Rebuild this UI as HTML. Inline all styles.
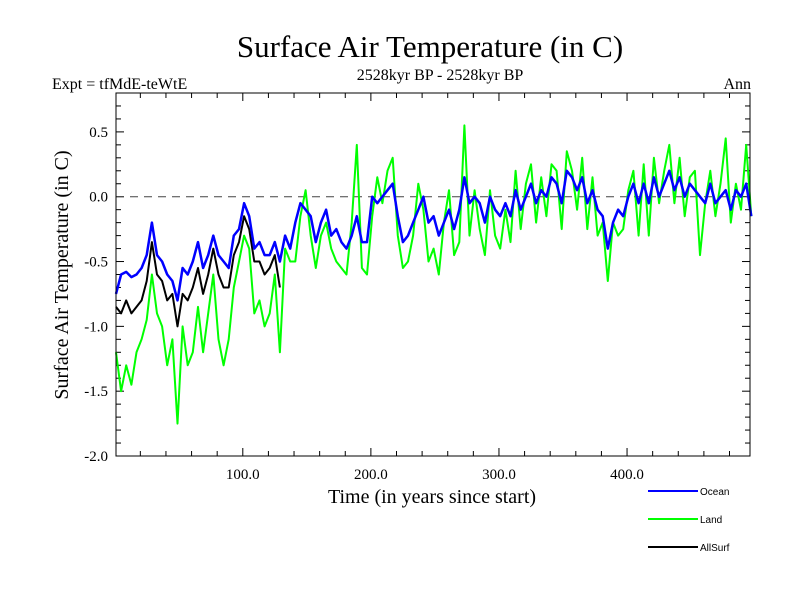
<!DOCTYPE html>
<html><head><meta charset="utf-8"><style>
body{margin:0;background:#fff}
svg{display:block;font-family:"Liberation Serif",serif}
</style></head><body>
<svg id="chart" width="800" height="600">
<text x="430" y="57" font-size="31" text-anchor="middle">Surface Air Temperature (in C)</text>
<text x="52" y="89" font-size="16">Expt = tfMdE-teWtE</text>
<text x="440" y="80" font-size="16" text-anchor="middle">2528kyr BP - 2528kyr BP</text>
<text x="751" y="89" font-size="16" text-anchor="end">Ann</text>
<text transform="translate(68,275) rotate(-90)" font-size="20" text-anchor="middle">Surface Air Temperature (in C)</text>
<text x="432" y="503" font-size="20" text-anchor="middle">Time (in years since start)</text>
<g id="axes"></g>
<g id="series"></g>
<rect x="116" y="93" width="634" height="363" fill="none" stroke="#000" stroke-width="1"/>
<g font-family="Liberation Sans,sans-serif" font-size="10">
<line x1="648" y1="491" x2="698" y2="491" stroke="#0000ff" stroke-width="2"/>
<text x="700" y="495">Ocean</text>
<line x1="648" y1="519" x2="698" y2="519" stroke="#00ff00" stroke-width="2"/>
<text x="700" y="523">Land</text>
<line x1="648" y1="547" x2="698" y2="547" stroke="#000" stroke-width="2"/>
<text x="700" y="551">AllSurf</text>
</g>
</svg>
<script>
const startYear = 1;
const yearStep = 4;
const xTicks = [100, 200, 300, 400];
const xTickLabels = ["100.0", "200.0", "300.0", "400.0"];
const yTicks = [0.5, 0.0, -0.5, -1.0, -1.5, -2.0];
const yTickLabels = ["0.5", "0.0", "-0.5", "-1.0", "-1.5", "-2.0"];
const ocean = [-0.75,-0.6,-0.58,-0.62,-0.6,-0.55,-0.45,-0.2,-0.45,-0.5,-0.6,-0.65,-0.8,-0.55,-0.6,-0.5,-0.35,-0.55,-0.45,-0.3,-0.45,-0.5,-0.55,-0.3,-0.25,-0.05,-0.15,-0.4,-0.35,-0.45,-0.45,-0.35,-0.5,-0.3,-0.4,-0.2,-0.05,-0.1,-0.15,-0.35,-0.2,-0.1,-0.3,-0.25,-0.35,-0.4,-0.3,-0.15,-0.35,-0.35,0.0,-0.05,0.0,0.05,0.1,-0.15,-0.35,-0.3,-0.2,-0.1,0.0,-0.2,-0.15,-0.3,-0.2,-0.1,-0.25,-0.1,0.15,-0.05,0.0,-0.05,-0.2,0.0,-0.1,-0.15,-0.05,-0.15,0.05,-0.1,0.0,0.1,-0.05,0.05,0.0,0.15,0.1,-0.05,0.2,0.15,0.05,0.15,-0.05,0.05,-0.1,-0.15,-0.4,-0.2,-0.1,-0.15,0.0,0.1,-0.05,0.1,-0.05,0.15,0.0,0.1,0.2,0.05,0.15,0.0,0.1,0.05,0.0,-0.05,0.1,-0.05,0.0,0.05,-0.1,0.05,0.0,0.1,-0.15];
const land = [-1.2,-1.5,-1.3,-1.45,-1.2,-1.1,-0.95,-0.6,-0.9,-1.0,-1.3,-1.1,-1.75,-1.0,-1.3,-1.2,-0.85,-1.2,-0.9,-0.6,-1.1,-1.3,-1.1,-0.7,-0.5,-0.3,-0.4,-0.9,-0.8,-1.0,-0.9,-0.6,-1.2,-0.4,-0.5,-0.5,-0.15,0.05,-0.3,-0.55,-0.3,-0.2,-0.4,-0.5,-0.55,-0.6,-0.2,0.4,-0.55,-0.6,-0.15,0.15,-0.05,0.2,0.3,-0.3,-0.55,-0.5,-0.3,0.1,-0.1,-0.5,-0.4,-0.6,-0.2,0.05,-0.45,-0.35,0.55,-0.3,0.05,-0.25,-0.45,0.05,-0.3,-0.4,-0.1,-0.35,0.2,-0.25,0.1,0.25,-0.2,0.15,-0.15,0.25,0.2,-0.25,0.35,0.2,-0.1,0.3,-0.25,0.15,-0.3,-0.2,-0.65,-0.2,-0.3,-0.25,0.05,0.2,-0.3,0.25,-0.3,0.3,-0.05,0.2,0.4,-0.05,0.3,-0.15,0.15,0.2,-0.45,-0.05,0.2,-0.15,0.1,0.45,-0.2,0.1,-0.1,0.4,-0.15];
const allSurf = [-0.85,-0.9,-0.8,-0.9,-0.85,-0.8,-0.65,-0.35,-0.6,-0.65,-0.8,-0.75,-1.0,-0.75,-0.8,-0.7,-0.55,-0.75,-0.6,-0.4,-0.6,-0.7,-0.7,-0.45,-0.35,-0.15,-0.25,-0.5,-0.5,-0.6,-0.55,-0.45,-0.7];

const NS = "http://www.w3.org/2000/svg";
const X0 = 116, X1 = 750, Y0 = 93, Y1 = 456;
const xMin = 1, xMax = 496, yMin = -2.0, yMax = 0.8;
function sx(v){ return X0 + (v - xMin) / (xMax - xMin) * (X1 - X0); }
function sy(v){ return Y1 - (v - yMin) / (yMax - yMin) * (Y1 - Y0); }
function mk(tag, attrs, parent){ const e = document.createElementNS(NS, tag); for (const k in attrs) e.setAttribute(k, attrs[k]); parent.appendChild(e); return e; }
const axes = document.getElementById('axes');
const series = document.getElementById('series');

for (let v = 20; v < xMax; v += 20) {
  const major = v % 100 === 0, L = major ? 8 : 5;
  const t1 = mk('line', {x1: sx(v), x2: sx(v), y1: Y1, y2: Y1 - L, stroke: '#000'}, axes);
  
  
  const t2 = mk('line', {x1: sx(v), x2: sx(v), y1: Y0, y2: Y0 + L, stroke: '#000'}, axes);
  
  
}
xTicks.forEach((v, i) => {
  const t = mk('text', {x: sx(v), y: 479, 'font-size': 15, 'text-anchor': 'middle'}, axes);
  t.textContent = xTickLabels[i];
  
  
});
for (let k = -20; k <= 8; k++) {
  const v = k / 10, major = k % 5 === 0, L = major ? 8 : 5;
  const a = mk('line', {x1: X0, x2: X0 + L, y1: sy(v), y2: sy(v), stroke: '#000'}, axes);
  
  
  const b = mk('line', {x1: X1, x2: X1 - L, y1: sy(v), y2: sy(v), stroke: '#000'}, axes);
  
  
}
yTicks.forEach((v, i) => {
  const t = mk('text', {x: 108, y: sy(v) + 5, 'font-size': 15, 'text-anchor': 'end'}, axes);
  t.textContent = yTickLabels[i];
  
  
});
const zl = mk('line', {x1: X0, x2: X1, y1: sy(0), y2: sy(0), stroke: '#444', 'stroke-dasharray': '8,6'}, axes);



function path(arr, color, w){
  const d = arr.map((v, i) => (i ? 'L' : 'M') + sx(startYear + yearStep * i).toFixed(1) + ',' + sy(v).toFixed(1)).join('');
  return mk('path', {d: d, fill: 'none', stroke: color, 'stroke-width': w, 'stroke-linejoin': 'round'}, series);
}
const pl = path(land, '#00ff00', 2);


const pa = path(allSurf, '#000000', 2);


const po = path(ocean, '#0000ff', 2.5);


</script>
</body></html>
